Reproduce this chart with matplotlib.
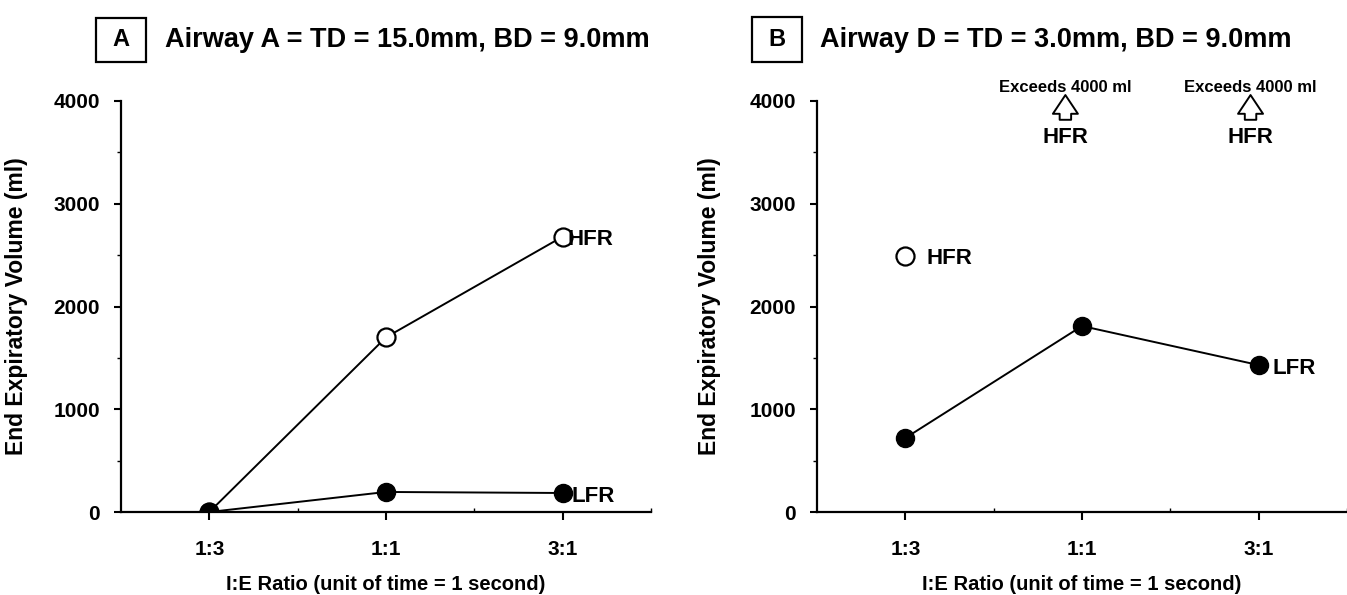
import matplotlib
matplotlib.use("Agg")
import matplotlib.pyplot as plt
from matplotlib.ticker import MultipleLocator, FixedLocator
from matplotlib.patches import Rectangle
from matplotlib import font_manager

# ---------------- data ----------------
categories = ["1:3", "1:1", "3:1"]
xpos = [1, 2, 3]

a_hfr = [0, 1700, 2680]
a_lfr = [0, 195, 185]

b_hfr_x = [1]
b_hfr = [2490]
b_lfr = [720, 1810, 1430]

title_a = "Airway A = TD = 15.0mm, BD = 9.0mm"
title_b = "Airway D = TD = 3.0mm, BD = 9.0mm"
ylabel = "End Expiratory Volume (ml)"
xlabel = "I:E Ratio (unit of time = 1 second)"
exceed_text = "Exceeds 4000 ml"
exceed_x = [1.906, 2.954]

# ---------------- fonts ----------------
names = {f.name for f in font_manager.fontManager.ttflist}
fam = [n for n in ["Liberation Sans Narrow", "Liberation Sans", "DejaVu Sans"] if n in names]
plt.rcParams["font.family"] = fam
plt.rcParams["font.weight"] = "bold"

W, H = 1347, 595
fig = plt.figure(figsize=(W / 100, H / 100), dpi=100)
axA = fig.add_axes([121 / W, 1 - 512 / H, 530 / W, 411 / H])
axB = fig.add_axes([817 / W, 1 - 512 / H, 530 / W, 411 / H])

for ax in (axA, axB):
    ax.set_xlim(0.5, 3.5)
    ax.set_ylim(0, 4000)
    for s in ("top", "right"):
        ax.spines[s].set_visible(False)
    for s in ("left", "bottom"):
        ax.spines[s].set_linewidth(1.6)
    ax.set_xticks(xpos)
    ax.set_xticklabels(categories, fontsize=15, fontweight="bold")
    ax.xaxis.set_minor_locator(FixedLocator([1.5, 2.5, 3.5]))
    ax.yaxis.set_major_locator(MultipleLocator(1000))
    ax.yaxis.set_minor_locator(MultipleLocator(500))
    ax.tick_params(axis="x", which="major", length=6, width=1.5, pad=14)
    ax.tick_params(axis="x", which="minor", length=3, width=1.0, direction="in")
    ax.tick_params(axis="y", which="major", length=5, width=1.5, pad=10, labelsize=15)
    ax.tick_params(axis="y", which="minor", length=3, width=1.0)
    for t in ax.get_yticklabels():
        t.set_fontweight("bold")
    ax.set_ylabel(ylabel, fontsize=16.5, fontweight="bold")
    ax.set_xlabel(xlabel, fontsize=14.5, fontweight="bold", labelpad=12)

axA.yaxis.set_label_coords(-0.175, 0.5)
axB.yaxis.set_label_coords(-0.182, 0.5)

lw = 1.4
ms = 13
# Panel A
axA.plot(xpos, a_hfr, color="black", lw=lw, marker="o", ms=ms,
         mfc="white", mec="black", mew=1.6, zorder=3)
axA.plot(xpos, a_lfr, color="black", lw=lw, marker="o", ms=ms,
         mfc="black", mec="black", zorder=4)
axA.text(xpos[2] + 0.03, a_hfr[2] - 30, "HFR", fontsize=16, fontweight="bold",
         va="center", ha="left")
axA.text(xpos[2] + 0.05, a_lfr[2] - 30, "LFR", fontsize=16, fontweight="bold",
         va="center", ha="left")

# Panel B
axB.plot(b_hfr_x, b_hfr, linestyle="none", marker="o", ms=ms,
         mfc="white", mec="black", mew=1.6, zorder=3)
axB.plot(xpos, b_lfr, color="black", lw=lw, marker="o", ms=ms,
         mfc="black", mec="black", zorder=4)
axB.text(b_hfr_x[0] + 0.12, b_hfr[0] - 20, "HFR", fontsize=16, fontweight="bold",
         va="center", ha="left")
axB.text(xpos[2] + 0.08, b_lfr[2] - 30, "LFR", fontsize=16, fontweight="bold",
         va="center", ha="left")

for xe in exceed_x:
    axB.text(xe, 4136, exceed_text, fontsize=12, fontweight="bold",
             ha="center", va="center", clip_on=False)
    axB.annotate("", xy=(xe, 4085), xytext=(xe, 3790),
                 arrowprops=dict(arrowstyle="simple,head_width=1.2,head_length=0.9,tail_width=0.55",
                                 fc="white", ec="black", lw=1.4, mutation_scale=15),
                 annotation_clip=False)
    axB.text(xe, 3640, "HFR", fontsize=16, fontweight="bold",
             ha="center", va="center", clip_on=False)

# Panel titles with square boxes
for (x0, x1, y0, y1, letter) in [(96, 146, 18, 62, "A"), (752, 802, 17, 62, "B")]:
    fig.add_artist(Rectangle((x0 / W, 1 - y1 / H), (x1 - x0) / W, (y1 - y0) / H,
                             transform=fig.transFigure, fill=False,
                             ec="black", lw=1.6))
    fig.text((x0 + x1) / 2 / W, 1 - (y0 + y1) / 2 / H, letter, fontsize=17,
             fontweight="bold", ha="center", va="center")

fig.text(165 / W, 1 - 40 / H, title_a, fontsize=19.5, fontweight="bold",
         ha="left", va="center")
fig.text(820 / W, 1 - 40 / H, title_b, fontsize=19.5, fontweight="bold",
         ha="left", va="center")

fig.savefig("out.png", dpi=100)
